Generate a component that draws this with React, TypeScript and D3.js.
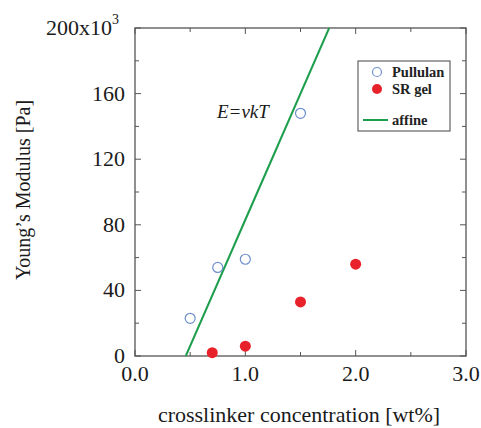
import { useRef, useEffect } from "react";
import * as d3 from "d3";

// crosslinker concentration [wt%] vs Young's modulus [x10^3 Pa]
const pullulanX = [0.5, 0.75, 1.0, 1.5];
const pullulanY = [23, 54, 59, 148];
const srGelX = [0.7, 1.0, 1.5, 2.0];
const srGelY = [2, 6, 33, 56];
const affineX = [0.46, 1.76];
const affineY = [0, 200];
const xTicks = [0, 1, 2, 3];
const yTicks = [0, 40, 80, 120, 160, 200];

const W = 481;
const H = 428;
const FONT = "'Liberation Serif', 'Times New Roman', serif";

const App = () => {
  const svgRef = useRef<SVGSVGElement>(null);

  useEffect(() => {
    const svg = d3.select(svgRef.current);
    svg.selectAll("*").remove();

    const left = 135, right = 466, top = 28, bottom = 356;
    const x = d3.scaleLinear().domain([0, 3]).range([left, right]);
    const y = d3.scaleLinear().domain([0, 200]).range([bottom, top]);
    const axisColor = "#555";

    // frame
    svg.append("rect")
      .attr("x", left).attr("y", top)
      .attr("width", right - left).attr("height", bottom - top)
      .attr("fill", "none").attr("stroke", axisColor).attr("stroke-width", 1.3);

    // ticks (inward, all four sides)
    const xMinor = d3.range(0, 3.01, 0.5);
    const yMinor = d3.range(0, 201, 20);
    const tick = svg.append("g").attr("stroke", axisColor).attr("stroke-width", 1);
    xMinor.forEach((v) => {
      const len = xTicks.includes(v) ? 6 : 4;
      tick.append("line").attr("x1", x(v)).attr("x2", x(v)).attr("y1", bottom).attr("y2", bottom - len);
      tick.append("line").attr("x1", x(v)).attr("x2", x(v)).attr("y1", top).attr("y2", top + len);
    });
    yMinor.forEach((v) => {
      const len = yTicks.includes(v) ? 6 : 4;
      tick.append("line").attr("y1", y(v)).attr("y2", y(v)).attr("x1", left).attr("x2", left + len);
      tick.append("line").attr("y1", y(v)).attr("y2", y(v)).attr("x1", right).attr("x2", right - len);
    });

    // tick labels
    const lbl = svg.append("g").attr("font-family", FONT).attr("font-size", 22).attr("fill", "#1a1a1a");
    xTicks.forEach((v) => {
      lbl.append("text").attr("x", x(v)).attr("y", 381).attr("text-anchor", "middle").text(v.toFixed(1));
    });
    yTicks.forEach((v) => {
      const t = lbl.append("text").attr("x", left - 10).attr("y", y(v) + 7).attr("text-anchor", "end");
      if (v === 200) {
        t.attr("x", left - 16);
        t.append("tspan").text("200x10");
        t.append("tspan").attr("font-size", 14).attr("dy", -11).text("3");
      } else {
        t.text(String(v));
      }
    });

    // axis titles
    svg.append("text")
      .attr("x", 299).attr("y", 422)
      .attr("text-anchor", "middle").attr("font-family", FONT).attr("font-size", 22).attr("fill", "#1a1a1a")
      .text("crosslinker concentration [wt%]");
    svg.append("text")
      .attr("transform", `translate(30, 190) rotate(-90)`)
      .attr("text-anchor", "middle").attr("font-family", FONT).attr("font-size", 20).attr("fill", "#1a1a1a")
      .text("Young’s Modulus [Pa]");

    // affine line
    const line = d3.line<number>().x((_, i) => x(affineX[i])).y((d) => y(d));
    svg.append("path").datum(affineY).attr("d", line)
      .attr("fill", "none").attr("stroke", "#1d9e4c").attr("stroke-width", 2);

    svg.append("text")
      .attr("x", 217).attr("y", 118)
      .attr("font-family", FONT).attr("font-style", "italic").attr("font-size", 19).attr("fill", "#1a1a1a")
      .text("E=νkT");

    // points
    svg.append("g").selectAll("circle").data(pullulanX).join("circle")
      .attr("cx", (d) => x(d)).attr("cy", (_, i) => y(pullulanY[i])).attr("r", 5)
      .attr("fill", "none").attr("stroke", "#6d8fcc").attr("stroke-width", 1.2);
    svg.append("g").selectAll("circle").data(srGelX).join("circle")
      .attr("cx", (d) => x(d)).attr("cy", (_, i) => y(srGelY[i])).attr("r", 5.5)
      .attr("fill", "#e8222a");

    // legend
    const lg = svg.append("g");
    lg.append("rect").attr("x", 358).attr("y", 61).attr("width", 92).attr("height", 70)
      .attr("fill", "white").attr("stroke", "#444").attr("stroke-width", 1);
    lg.append("circle").attr("cx", 377).attr("cy", 72).attr("r", 4.5)
      .attr("fill", "none").attr("stroke", "#6d8fcc").attr("stroke-width", 1.2);
    lg.append("circle").attr("cx", 377).attr("cy", 89).attr("r", 5).attr("fill", "#e8222a");
    lg.append("line").attr("x1", 363).attr("x2", 388).attr("y1", 120).attr("y2", 120)
      .attr("stroke", "#1d9e4c").attr("stroke-width", 2);
    const lt = lg.append("g").attr("font-family", FONT).attr("font-size", 14.5).attr("font-weight", "bold").attr("fill", "#222");
    lt.append("text").attr("x", 392).attr("y", 77).text("Pullulan");
    lt.append("text").attr("x", 392).attr("y", 94).text("SR gel");
    lt.append("text").attr("x", 392).attr("y", 125).text("affine");
  }, []);

  return (
    <svg ref={svgRef} width={W} height={H}
      style={{ position: "absolute", left: 0, top: 0, background: "white" }} />
  );
};

export default App;
